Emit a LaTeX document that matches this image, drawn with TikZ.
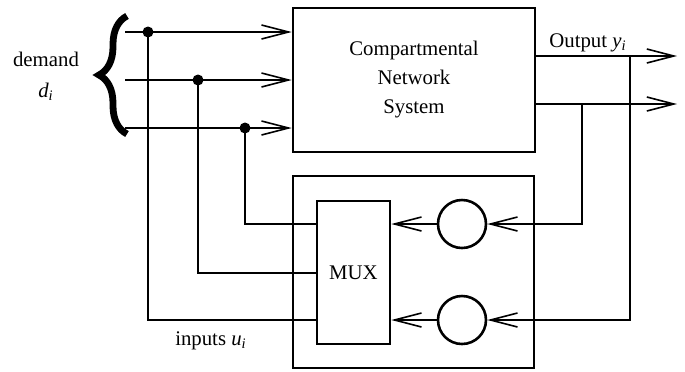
\documentclass[tikz,border=0pt]{standalone}
\usepackage{fontspec}
\setmainfont{Liberation Serif}
\usetikzlibrary{arrows.meta,decorations.pathreplacing}

\begin{document}
\begin{tikzpicture}[x=0.5pt,y=-0.5pt,
  every node/.style={inner sep=0pt,font=\fontsize{10.4}{14.5}\selectfont},
  blk/.style={draw,line width=1.3pt},
  wire/.style={line width=1pt},
  barb/.style={-{Straight Barb[length=13.5pt,width=7pt,line width=0.8pt]}},
  junc/.style={circle,fill,minimum size=5.5pt}]
  \useasboundingbox (0,0) rectangle (685,371);
  % blocks
  \node[blk,minimum width=121pt,minimum height=72pt,align=center] (sys) at (414,80) {Compartmental\\Network\\System};
  \node[blk,minimum width=120.5pt,minimum height=96pt] (fb) at (413.5,272) {};
  \node[blk,minimum width=36.5pt,minimum height=71.5pt] (mux) at (353.5,272.5) {MUX};
  \node[blk,circle,minimum size=24pt] (c1) at (462,224) {};
  \node[blk,circle,minimum size=24pt] (c2) at (462,320) {};
  % demand brace and inputs
  \draw[line width=3.4pt,decorate,decoration={brace,amplitude=14pt}] (127,134) -- (127,16);
  \node[anchor=base] (dem) at (46,66) {demand};
  \node[anchor=base] (dlab) at (46,97) {\textit{d}\textsubscript{\textit{i}}};
  \coordinate (d1) at (125,32);
  \coordinate (d2) at (125,80);
  \coordinate (d3) at (125,128);
  \draw[wire,barb] (d1) -- (d1 -| sys.west);
  \draw[wire,barb] (d2) -- (d2 -| sys.west);
  \draw[wire,barb] (d3) -- (d3 -| sys.west);
  \coordinate (j1) at (148,32);
  \coordinate (j2) at (198,80);
  \coordinate (j3) at (245,128);
  \draw[wire] (j3) |- (mux.west |- c1);
  \draw[wire] (j2) |- (mux.west);
  \draw[wire] (j1) |- (mux.west |- c2);
  \node[junc] (n1) at (j1) {};
  \node[junc] (n2) at (j2) {};
  \node[junc] (n3) at (j3) {};
  \node[anchor=base] (ulab) at (211,345) {inputs \textit{u}\textsubscript{\textit{i}}};
  % outputs and feedback
  \coordinate (o1) at (535,56);
  \coordinate (o2) at (535,104);
  \coordinate (e1) at (677,56);
  \coordinate (e2) at (677,104);
  \draw[wire,barb] (o1) -- (e1);
  \draw[wire,barb] (o2) -- (e2);
  \node[anchor=base] (ylab) at (588,47) {Output \textit{y}\textsubscript{\textit{i}}};
  \coordinate (k1) at (582,104);
  \coordinate (k2) at (630,56);
  \draw[wire,barb] (k1) |- (c1.east);
  \draw[wire,barb] (k2) |- (c2.east);
  \draw[wire,barb] (c1.west) -- (c1.west -| mux.east);
  \draw[wire,barb] (c2.west) -- (c2.west -| mux.east);
\end{tikzpicture}
\end{document}
